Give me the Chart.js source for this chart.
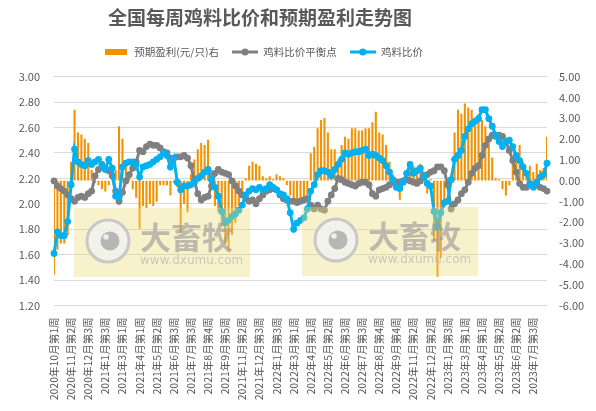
<!DOCTYPE html>
<html>
<head>
<meta charset="utf-8">
<script src="https://cdn.jsdelivr.net/npm/chart.js@4.4.1/dist/chart.umd.min.js"></script>
<style>
  html, body { margin: 0; padding: 0; background: #ffffff; }
  #wrap { width: 596px; height: 411px; }
</style>
</head>
<body>
<div id="wrap"><canvas id="myChart" width="596" height="411"></canvas></div>
<script>
// x axis labels shown every 5th week
const tickLabels = [
    '2020年10月第1周', '2020年11月第2周', '2020年12月第3周', '2021年1月第3周', '2021年3月第1周',
    '2021年4月第1周', '2021年5月第2周', '2021年6月第3周', '2021年7月第3周', '2021年8月第4周',
    '2021年9月第5周', '2021年11月第2周', '2021年12月第3周', '2022年1月第3周', '2022年3月第1周',
    '2022年4月第1周', '2022年5月第2周', '2022年6月第3周', '2022年7月第3周', '2022年8月第4周',
    '2022年9月第4周', '2022年11月第2周', '2022年12月第2周', '2023年1月第3周', '2023年3月第1周',
    '2023年4月第1周', '2023年5月第2周', '2023年6月第2周', '2023年7月第3周'
];

// 鸡料比价
const ratio = [
    1.61, 1.78, 1.75, 1.75, 1.86, 2.15, 2.43, 2.33, 2.31, 2.30,
    2.34, 2.31, 2.33, 2.35, 2.30, 2.27, 2.35, 2.28, 2.06, 2.05,
    2.29, 2.32, 2.33, 2.33, 2.31, 2.21, 2.29, 2.30, 2.31, 2.33,
    2.35, 2.37, 2.40, 2.38, 2.29, 2.36, 2.17, 2.11, 2.14, 2.14,
    2.15, 2.17, 2.20, 2.22, 2.25, 2.27, 2.19, 2.13, 2.06, 1.94,
    1.85, 1.87, 1.90, 1.92, 1.95, 1.99, 2.07, 2.10, 2.12, 2.11,
    2.13, 2.11, 2.12, 2.15, 2.13, 2.11, 2.08, 2.07, 2.04, 1.93,
    1.80, 1.85, 1.87, 1.89, 1.96, 2.10, 2.15, 2.23, 2.26, 2.26,
    2.25, 2.22, 2.27, 2.31, 2.35, 2.40, 2.39, 2.40, 2.41, 2.41,
    2.42, 2.43, 2.38, 2.39, 2.38, 2.36, 2.34, 2.30, 2.25, 2.19,
    2.13, 2.12, 2.17, 2.24, 2.31, 2.24, 2.26, 2.28, 2.22, 2.16,
    2.14, 1.94, 1.82, 1.93, 2.01, 2.02, 2.19, 2.35, 2.38, 2.42,
    2.53, 2.59, 2.63, 2.65, 2.67, 2.74, 2.74, 2.67, 2.61, 2.54,
    2.49, 2.45, 2.49, 2.50, 2.45, 2.38, 2.34, 2.29, 2.24, 2.15,
    2.13, 2.17, 2.21, 2.23, 2.32
];

// 鸡料比价平衡点
const balance = [
    2.18, 2.14, 2.12, 2.10, 2.07, 2.04, 2.02, 2.05, 2.06, 2.05,
    2.08, 2.10, 2.22, 2.27, 2.31, 2.28, 2.26, 2.22, 2.10, 2.02,
    2.09, 2.18, 2.23, 2.28, 2.33, 2.42, 2.41, 2.45, 2.47, 2.46,
    2.46, 2.44, 2.41, 2.40, 2.36, 2.36, 2.37, 2.37, 2.38, 2.36,
    2.30, 2.18, 2.08, 2.03, 2.05, 2.06, 2.14, 2.24, 2.27, 2.25,
    2.24, 2.23, 2.18, 2.14, 2.10, 2.07, 2.04, 2.02, 2.03, 2.00,
    2.04, 2.07, 2.10, 2.11, 2.12, 2.11, 2.07, 2.04, 2.03, 2.02,
    2.02, 2.01, 2.02, 2.03, 2.04, 1.99, 1.96, 1.99, 1.96, 1.95,
    2.02, 2.07, 2.12, 2.20, 2.19, 2.17, 2.16, 2.15, 2.14, 2.16,
    2.17, 2.17, 2.15, 2.08, 2.06, 2.11, 2.12, 2.13, 2.15, 2.17,
    2.17, 2.17, 2.18, 2.19, 2.18, 2.17, 2.16, 2.18, 2.21, 2.23,
    2.25, 2.26, 2.29, 2.29, 2.26, 2.15, 1.96, 2.00, 2.03, 2.08,
    2.11, 2.17, 2.24, 2.28, 2.30, 2.38, 2.46, 2.51, 2.54, 2.53,
    2.54, 2.53, 2.49, 2.42, 2.34, 2.25, 2.16, 2.13, 2.13, 2.16,
    2.15, 2.15, 2.13, 2.12, 2.10
];

// 预期盈利(元/只), right axis
const profit = [
    -4.5, -3.3, -3.0, -3.0, -2.6, 0.9, 3.4, 2.3, 2.2, 2.0,
    1.8, 0.5, -0.1, -0.2, -0.4, -0.5, -0.2, 0.3, 0.5, 2.6,
    2.0, 0.8, 0.2, -0.4, -0.8, -2.3, -1.2, -1.3, -1.1, -1.2,
    -1.0, -0.2, -0.2, -0.2, -0.7, -0.1, -0.3, -2.5, -1.1, -1.5,
    0.3, 1.0, 1.5, 1.8, 1.7, 1.95, 0.5, -1.2, -1.5, -2.2,
    -3.0, -3.4, -2.6, -2.0, -1.2, -0.7, 0.1, 0.7, 0.9, 0.8,
    0.7, 0.2, 0.1, 0.2, 0.05, 0.3, 0.2, 0.1, -0.2, -0.7,
    -1.0, -1.1, -0.9, -1.0, -0.8, 1.3, 1.6, 2.5, 2.9, 3.0,
    2.3, 1.5, 1.5, 1.0, 1.7, 2.1, 2.0, 2.5, 2.5, 2.4,
    2.4, 2.5, 2.5, 2.8, 3.3, 2.3, 2.2, 1.7, 0.9, 0.3,
    -0.3, -0.9, -0.1, 0.2, 0.8, 0.7, 0.6, 0.8, 0.4, -0.6,
    0.05, -2.9, -4.6, -3.7, -1.3, -0.4, 0.3, 2.3, 3.4, 3.2,
    3.7, 3.5, 3.4, 2.8, 3.2, 2.9, 2.6, 1.9, 1.1, 0.1,
    0.05, -0.4, -0.7, -0.2, 1.1, 1.3, 1.7, 0.9, 0.35, 0.7,
    0.4, 0.8, 0.5, 0.6, 2.1
];

const weeks = ratio.map(function (v, i) {
    return i % 5 === 0 ? tickLabels[i / 5] : '';
});

const ORANGE = '#F39200';
const GREY = '#808080';
const BLUE = '#00B0F0';
const TEXT = '#595959';

Chart.defaults.font.family = '"Noto Sans CJK SC", "Noto Sans", sans-serif';
Chart.defaults.color = TEXT;

// small legend icons: rect for bars, line + dot for the two lines
function makeIcon(color, type) {
    const c = document.createElement('canvas');
    c.width = 26;
    c.height = 10;
    const g = c.getContext('2d');
    g.fillStyle = color;
    g.strokeStyle = color;
    if (type === 'rect') {
        g.fillRect(2, 2, 22, 6);
    } else {
        g.lineWidth = 3;
        g.beginPath();
        g.moveTo(0, 5);
        g.lineTo(26, 5);
        g.stroke();
        g.beginPath();
        g.arc(13, 5, 3.6, 0, Math.PI * 2);
        g.fill();
    }
    return c;
}
const icons = [makeIcon(ORANGE, 'rect'), makeIcon(GREY, 'line'), makeIcon(BLUE, 'line')];

// watermark boxes of the source picture
function drawMark(ctx, x, y) {
    ctx.save();
    ctx.fillStyle = 'rgba(236, 222, 120, 0.38)';
    ctx.fillRect(x, y, 176, 69);

    const cx = x + 34, cy = y + 33;
    ctx.beginPath();
    ctx.arc(cx, cy, 21, 0, Math.PI * 2);
    ctx.fillStyle = 'rgba(242, 242, 238, 0.85)';
    ctx.fill();
    ctx.lineWidth = 3;
    ctx.strokeStyle = 'rgba(195, 195, 195, 0.9)';
    ctx.stroke();
    ctx.beginPath();
    ctx.arc(cx + 2, cy, 9.5, 0, Math.PI * 2);
    ctx.fillStyle = 'rgba(175, 175, 175, 0.9)';
    ctx.fill();
    ctx.beginPath();
    ctx.arc(cx - 2, cy - 4, 2.8, 0, Math.PI * 2);
    ctx.fillStyle = 'rgba(240, 240, 240, 0.95)';
    ctx.fill();

    ctx.fillStyle = 'rgba(150, 150, 150, 0.6)';
    ctx.textBaseline = 'middle';
    ctx.font = 'bold 31px "Noto Sans CJK SC"';
    ctx.fillText('大畜牧', x + 66, y + 29);
    ctx.fillStyle = 'rgba(170, 170, 170, 0.6)';
    ctx.font = '12px "DejaVu Sans"';
    ctx.fillText('www.dxumu.com', x + 66, y + 53);
    ctx.restore();
}

const watermark = {
    id: 'watermark',
    afterDatasetsDraw(chart) {
        drawMark(chart.ctx, 74, 208);
        drawMark(chart.ctx, 302, 207);
    }
};

// title and legend sit left of centre in the source
const headerShift = {
    id: 'headerShift',
    afterLayout(chart) {
        const t = chart.titleBlock;
        t.left -= 38;
        t.right -= 38;
        const lg = chart.legend;
        lg.left -= 35;
        lg.right -= 35;
        lg.top -= 9.5;
        lg.bottom -= 9.5;
    }
};

const ctx = document.getElementById('myChart').getContext('2d');
const myChart = new Chart(ctx, {
    type: 'bar',
    data: {
        labels: weeks,
        datasets: [{
            type: 'bar',
            label: '预期盈利(元/只)右',
            data: profit,
            yAxisID: 'y1',
            backgroundColor: ORANGE,
            barThickness: 1.4,
            order: 3
        }, {
            type: 'line',
            label: '鸡料比价平衡点',
            data: balance,
            yAxisID: 'y',
            borderColor: GREY,
            backgroundColor: GREY,
            borderWidth: 3,
            pointRadius: 3.4,
            pointBorderWidth: 0,
            pointBackgroundColor: GREY,
            tension: 0,
            order: 2
        }, {
            type: 'line',
            label: '鸡料比价',
            data: ratio,
            yAxisID: 'y',
            borderColor: BLUE,
            backgroundColor: BLUE,
            borderWidth: 3,
            pointRadius: 3.4,
            pointBorderWidth: 0,
            pointBackgroundColor: BLUE,
            tension: 0,
            order: 1
        }]
    },
    options: {
        responsive: false,
        animation: false,
        layout: { padding: 0 },
        plugins: {
            title: {
                display: true,
                text: '全国每周鸡料比价和预期盈利走势图',
                color: TEXT,
                font: { size: 19, weight: 'bold' },
                padding: { top: 6.6, bottom: 13.8 }
            },
            legend: {
                position: 'top',
                labels: {
                    usePointStyle: true,
                    pointStyleWidth: 26,
                    padding: 13,
                    color: TEXT,
                    font: { size: 10.5 },
                    generateLabels: function (chart) {
                        return chart.data.datasets.map(function (ds, i) {
                            return {
                                text: ds.label,
                                pointStyle: icons[i],
                                datasetIndex: i,
                                hidden: false,
                                lineWidth: 0,
                                fillStyle: ds.backgroundColor,
                                strokeStyle: ds.backgroundColor,
                                fontColor: TEXT
                            };
                        });
                    }
                }
            },
            tooltip: { enabled: false }
        },
        scales: {
            x: {
                offset: false,
                grid: { display: false },
                border: { display: false },
                ticks: {
                    autoSkip: false,
                    minRotation: 90,
                    maxRotation: 90,
                    padding: 4,
                    color: TEXT,
                    font: { size: 10.5 }
                },
                afterFit: function (scale) {
                    scale.height = 105.5;
                }
            },
            y: {
                position: 'left',
                min: 1.2,
                max: 3.0,
                ticks: {
                    stepSize: 0.2,
                    padding: 14,
                    color: TEXT,
                    font: { size: 11 },
                    callback: function (v) { return v.toFixed(2); }
                },
                grid: { color: '#D9D9D9', drawTicks: false },
                border: { display: false },
                afterFit: function (scale) {
                    scale.width = 54;
                }
            },
            y1: {
                position: 'right',
                min: -6,
                max: 5,
                ticks: {
                    stepSize: 1,
                    padding: 12,
                    color: TEXT,
                    font: { size: 11 },
                    callback: function (v) { return v.toFixed(2); }
                },
                grid: { drawOnChartArea: false, drawTicks: false },
                border: { display: false },
                afterFit: function (scale) {
                    scale.width = 49;
                }
            }
        }
    },
    plugins: [watermark, headerShift]
});
</script>
</body>
</html>
